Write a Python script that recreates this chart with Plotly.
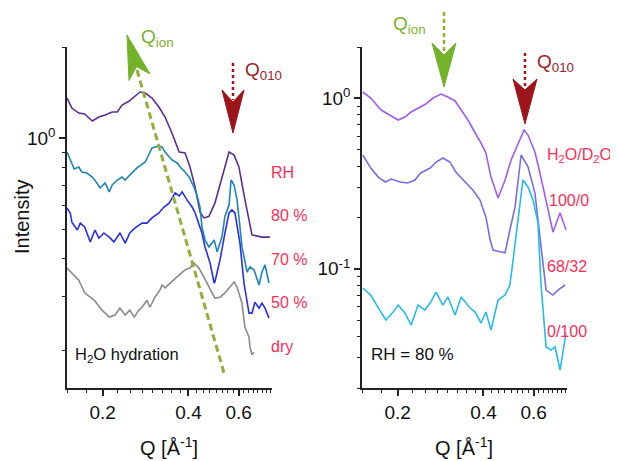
import math
import plotly.graph_objects as go

# the page body adds an 8px margin, so the figure is placed 8px in from the top-left corner
OFF = 8
W, H = 618 - OFF, 461 - OFF
FONT = "Liberation Sans, Arial, sans-serif"

# ---------------- Left panel: H2O hydration at different RH ----------------
q_rh80 = [0.150, 0.156, 0.165, 0.173, 0.184, 0.194, 0.204, 0.216, 0.225, 0.234, 0.248, 0.258,
          0.270, 0.282, 0.298, 0.315, 0.331, 0.350, 0.371, 0.389, 0.405, 0.422, 0.439, 0.453,
          0.472, 0.495, 0.524, 0.555, 0.578, 0.601, 0.631, 0.657, 0.668, 0.724, 0.772]
i_rh80 = [1.357, 1.258, 1.211, 1.202, 1.140, 1.175, 1.193, 1.221, 1.221, 1.287, 1.327, 1.368,
          1.421, 1.410, 1.357, 1.268, 1.175, 1.041, 0.901, 0.894, 0.804, 0.690, 0.571, 0.546,
          0.553, 0.611, 0.739, 0.901, 0.880, 0.804, 0.626, 0.518, 0.480, 0.472, 0.472]

q_rh70 = [0.150, 0.154, 0.159, 0.165, 0.169, 0.176, 0.184, 0.191, 0.196, 0.204, 0.211, 0.216,
          0.225, 0.234, 0.240, 0.249, 0.264, 0.282, 0.298, 0.315, 0.323, 0.331, 0.350, 0.365,
          0.374, 0.389, 0.402, 0.418, 0.428, 0.439, 0.446, 0.457, 0.472, 0.492, 0.504, 0.524,
          0.537, 0.555, 0.564, 0.578, 0.592, 0.606, 0.616, 0.642, 0.657, 0.679, 0.707, 0.724,
          0.742, 0.766]
i_rh70 = [0.901, 0.848, 0.792, 0.804, 0.774, 0.768, 0.745, 0.712, 0.685, 0.712, 0.665, 0.701,
          0.728, 0.745, 0.728, 0.756, 0.798, 0.835, 0.929, 0.943, 0.936, 0.901, 0.848, 0.829,
          0.804, 0.774, 0.745, 0.690, 0.650, 0.593, 0.510, 0.462, 0.438, 0.462, 0.422, 0.472,
          0.553, 0.602, 0.728, 0.701, 0.626, 0.510, 0.438, 0.362, 0.376, 0.368, 0.328, 0.362,
          0.382, 0.333]

q_rh50 = [0.150, 0.154, 0.156, 0.160, 0.163, 0.167, 0.173, 0.181, 0.188, 0.194, 0.202, 0.211,
          0.219, 0.230, 0.240, 0.249, 0.260, 0.275, 0.286, 0.298, 0.315, 0.328, 0.342, 0.359,
          0.371, 0.380, 0.395, 0.412, 0.422, 0.446, 0.457, 0.476, 0.492, 0.495, 0.516, 0.537,
          0.555, 0.568, 0.582, 0.606, 0.626, 0.652, 0.668, 0.684, 0.707, 0.724, 0.742, 0.766]
i_rh50 = [0.589, 0.567, 0.529, 0.510, 0.498, 0.525, 0.510, 0.455, 0.498, 0.468, 0.487, 0.472,
          0.455, 0.487, 0.451, 0.487, 0.506, 0.525, 0.525, 0.546, 0.567, 0.593, 0.611, 0.660,
          0.645, 0.665, 0.626, 0.593, 0.567, 0.487, 0.438, 0.388, 0.333, 0.336, 0.397, 0.487,
          0.567, 0.580, 0.567, 0.451, 0.333, 0.265, 0.265, 0.288, 0.275, 0.286, 0.275, 0.255]

q_dry = [0.150, 0.156, 0.165, 0.173, 0.187, 0.199, 0.211, 0.221, 0.230, 0.240, 0.249, 0.258,
         0.268, 0.275, 0.286, 0.293, 0.305, 0.318, 0.323, 0.331, 0.345, 0.359, 0.371, 0.389,
         0.405, 0.418, 0.435, 0.453, 0.472, 0.495, 0.516, 0.537, 0.559, 0.578, 0.592, 0.616,
         0.631, 0.652, 0.657, 0.668, 0.679]
i_dry = [0.373, 0.359, 0.340, 0.309, 0.292, 0.271, 0.257, 0.261, 0.275, 0.261, 0.271, 0.257,
         0.271, 0.277, 0.292, 0.277, 0.299, 0.316, 0.328, 0.321, 0.333, 0.346, 0.354, 0.368,
         0.373, 0.388, 0.373, 0.348, 0.323, 0.297, 0.299, 0.309, 0.323, 0.336, 0.323, 0.286,
         0.238, 0.221, 0.205, 0.193, 0.197]

# ---------------- Right panel: H2O/D2O contrast at RH = 80 % ----------------
q_h100 = [0.151, 0.161, 0.175, 0.188, 0.201, 0.212, 0.223, 0.240, 0.251, 0.266, 0.284, 0.300,
          0.318, 0.334, 0.353, 0.374, 0.392, 0.408, 0.425, 0.450, 0.476, 0.500, 0.529, 0.555,
          0.573, 0.606, 0.631, 0.657, 0.684, 0.701, 0.742, 0.779]
i_h100 = [1.089, 1.004, 0.854, 0.798, 0.746, 0.777, 0.831, 0.889, 0.926, 1.004, 1.060, 1.018,
          0.965, 0.854, 0.746, 0.626, 0.547, 0.478, 0.345, 0.260, 0.332, 0.435, 0.547, 0.652,
          0.609, 0.484, 0.365, 0.264, 0.193, 0.164, 0.213, 0.169]

q_h68 = [0.151, 0.161, 0.171, 0.181, 0.190, 0.204, 0.217, 0.230, 0.241, 0.260, 0.273, 0.288,
         0.305, 0.320, 0.345, 0.367, 0.389, 0.408, 0.422, 0.432, 0.457, 0.476, 0.495, 0.516,
         0.542, 0.573, 0.606, 0.621, 0.636, 0.663, 0.701, 0.730, 0.773]
i_h68 = [0.465, 0.390, 0.345, 0.323, 0.336, 0.323, 0.319, 0.332, 0.365, 0.390, 0.423, 0.447,
         0.423, 0.370, 0.323, 0.290, 0.253, 0.201, 0.148, 0.129, 0.126, 0.124, 0.169, 0.230,
         0.465, 0.396, 0.278, 0.193, 0.129, 0.0751, 0.0702, 0.0751, 0.0804]

q_h0 = [0.151, 0.161, 0.173, 0.182, 0.193, 0.201, 0.212, 0.223, 0.236, 0.249, 0.260, 0.273,
        0.288, 0.300, 0.318, 0.334, 0.359, 0.374, 0.392, 0.408, 0.425, 0.450, 0.476, 0.495,
        0.508, 0.529, 0.550, 0.573, 0.597, 0.621, 0.636, 0.663, 0.690, 0.713, 0.742, 0.779]
i_h0 = [0.0772, 0.0702, 0.0573, 0.0501, 0.0558, 0.0613, 0.0551, 0.0468, 0.0613, 0.0573, 0.0630,
        0.0731, 0.0613, 0.0684, 0.0536, 0.0684, 0.0589, 0.0558, 0.0481, 0.0558, 0.0438, 0.0656,
        0.0702, 0.0804, 0.1126, 0.201, 0.332, 0.302, 0.253, 0.186, 0.0825, 0.0348, 0.0334,
        0.0348, 0.0255, 0.0420]

# ---------------- Axes ----------------
q_range = [0.15, 0.785]
y_range_left = [0.15, 2.0]
y_range_right = [0.02, 2.0]
x_tick_vals = [0.2, 0.4, 0.6]
x_tick_text = ["0.2", "0.4", "0.6"]
x_minor_vals = [round(0.15 + 0.025 * k, 3) for k in range(26)]
y_left_ticks = [1.0]
y_left_text = ["10<sup>0</sup>"]
y_left_minor = [0.2, 0.3, 0.4, 0.5, 0.6, 0.7, 0.8, 0.9, 2.0]
y_right_ticks = [1.0, 0.1]
y_right_text = ["10<sup>0</sup>", "10<sup>-1</sup>"]
y_right_minor = [0.02, 0.03, 0.04, 0.05, 0.06, 0.07, 0.08, 0.09,
                 0.2, 0.3, 0.4, 0.5, 0.6, 0.7, 0.8, 0.9, 2.0]

C_80, C_70, C_50, C_DRY = "#5a2f92", "#1d86b6", "#2b2ee6", "#8a8a8a"
C_100, C_68, C_0 = "#9d5ef3", "#7b6ce4", "#25bcea"
RED = "#ff2d55"
GREEN = "#72b32a"
GREEN_LINE = "#8fb13a"
DARKRED = "#9c151b"
AX = "#222222"


def px(x):
    """reference-image pixel x -> paper fraction"""
    return (x - OFF) / W


def py(y):
    """reference-image pixel y -> paper fraction"""
    return 1 - (y - OFF) / H


fig = go.Figure()
for q, i, c in [(q_rh80, i_rh80, C_80), (q_rh70, i_rh70, C_70),
                (q_rh50, i_rh50, C_50), (q_dry, i_dry, C_DRY)]:
    fig.add_trace(go.Scatter(x=q, y=i, mode="lines", line=dict(color=c, width=1.6),
                             xaxis="x", yaxis="y", showlegend=False, hoverinfo="skip"))
for q, i, c in [(q_h100, i_h100, C_100), (q_h68, i_h68, C_68), (q_h0, i_h0, C_0)]:
    fig.add_trace(go.Scatter(x=q, y=i, mode="lines", line=dict(color=c, width=1.6),
                             xaxis="x2", yaxis="y2", showlegend=False, hoverinfo="skip"))

xdomL = [px(67), px(272)]
xdomR = [px(362), px(567)]
ydom = [py(388), py(47)]

common_x = dict(type="log", range=[math.log10(q_range[0]), math.log10(q_range[1])],
                showgrid=False, zeroline=False, showline=True, linecolor=AX, linewidth=1.5,
                ticks="outside", ticklen=6, tickwidth=1.5, tickcolor=AX,
                tickmode="array", tickvals=x_tick_vals, ticktext=x_tick_text,
                tickfont=dict(size=19, color="#111", family=FONT),
                minor=dict(tickmode="array", tickvals=x_minor_vals, ticks="outside",
                           ticklen=3, tickwidth=1, tickcolor=AX, showgrid=False))
common_y = dict(type="log", showgrid=False, zeroline=False, showline=True, linecolor=AX,
                linewidth=1.5, ticks="outside", ticklen=6, tickwidth=1.5, tickcolor=AX,
                tickmode="array", tickfont=dict(size=19, color="#111", family=FONT))

fig.update_layout(
    width=W, height=H, margin=dict(l=0, r=0, t=0, b=0),
    paper_bgcolor="white", plot_bgcolor="white", showlegend=False,
    font=dict(family=FONT, color="#111"),
    xaxis=dict(common_x, domain=xdomL, anchor="y"),
    xaxis2=dict(common_x, domain=xdomR, anchor="y2"),
    yaxis=dict(common_y, domain=ydom, anchor="x",
               range=[math.log10(y_range_left[0]), math.log10(y_range_left[1])],
               tickvals=y_left_ticks, ticktext=y_left_text,
               minor=dict(tickmode="array", tickvals=y_left_minor, ticks="outside",
                          ticklen=3, tickwidth=1, tickcolor=AX, showgrid=False)),
    yaxis2=dict(common_y, domain=ydom, anchor="x2",
                range=[math.log10(y_range_right[0]), math.log10(y_range_right[1])],
                tickvals=y_right_ticks, ticktext=y_right_text,
                minor=dict(tickmode="array", tickvals=y_right_minor, ticks="outside",
                           ticklen=3, tickwidth=1, tickcolor=AX, showgrid=False)),
)

shapes = []


def dashed(x0, y0, x1, y1, color, width=3, dash="6px,4px"):
    shapes.append(dict(type="line", xref="paper", yref="paper",
                       x0=px(x0), y0=py(y0), x1=px(x1), y1=py(y1),
                       line=dict(color=color, width=width, dash=dash)))


def head(pts, color):
    path = "M " + " L ".join(f"{px(a):.5f},{py(b):.5f}" for a, b in pts) + " Z"
    shapes.append(dict(type="path", xref="paper", yref="paper", path=path,
                       fillcolor=color, line=dict(color=color, width=1)))


# left: Q_ion drift line and arrow
dashed(137, 70, 224, 373, GREEN_LINE, width=3, dash="7px,4px")
head([(127, 35), (150, 74), (136.5, 66.5), (129, 80.5)], GREEN)
# left: Q010 arrow
dashed(233, 63, 233, 100, DARKRED, width=2.5, dash="3px,3px")
head([(233, 133), (244, 90), (233, 102), (222, 90)], DARKRED)
# right: Q_ion arrow
dashed(444, 12, 444, 52, GREEN_LINE, width=2.5, dash="4px,3px")
head([(444, 87), (456, 43), (444, 55), (432, 43)], GREEN)
# right: Q010 arrow
dashed(525, 53, 525, 86, DARKRED, width=2.5, dash="3px,3px")
head([(525, 124), (537, 79), (525, 90), (513, 79)], DARKRED)

fig.update_layout(shapes=shapes)

ann = []


def text(x, y, s, size, color, xanchor="left", angle=0):
    ann.append(dict(x=px(x), y=py(y), xref="paper", yref="paper", text=s, showarrow=False,
                    xanchor=xanchor, yanchor="middle", textangle=angle,
                    font=dict(size=size, color=color, family=FONT)))


text(22, 217, "Intensity", 20, "#111", xanchor="center", angle=-90)
text(169, 446, "Q [Å<sup>-1</sup>]", 20, "#111", xanchor="center")
text(464, 446, "Q [Å<sup>-1</sup>]", 20, "#111", xanchor="center")

text(139, 38, "Q<sub>ion</sub>", 19, "#80b02f")
text(243, 71, "Q<sub>010</sub>", 19, "#9b2328")
text(391, 25, "Q<sub>ion</sub>", 19, "#80b02f")
text(535, 63, "Q<sub>010</sub>", 19, "#9b2328")

text(269, 172, "RH", 16, RED)
text(269, 215, "80 %", 16, RED)
text(269, 259, "70 %", 16, RED)
text(269, 302, "50 %", 16, RED)
text(269, 346, "dry", 16, RED)

text(545, 155, "H<sub>2</sub>O/D<sub>2</sub>O", 16, RED)
text(547, 201, "100/0", 16, RED)
text(545, 266, "68/32", 16, RED)
text(545, 331, "0/100", 16, RED)

text(73, 355, "H<sub>2</sub>O hydration", 16.5, "#111")
text(369, 354, "RH = 80 %", 17, "#111")

fig.update_layout(annotations=ann)
fig.write_html("out.html")
